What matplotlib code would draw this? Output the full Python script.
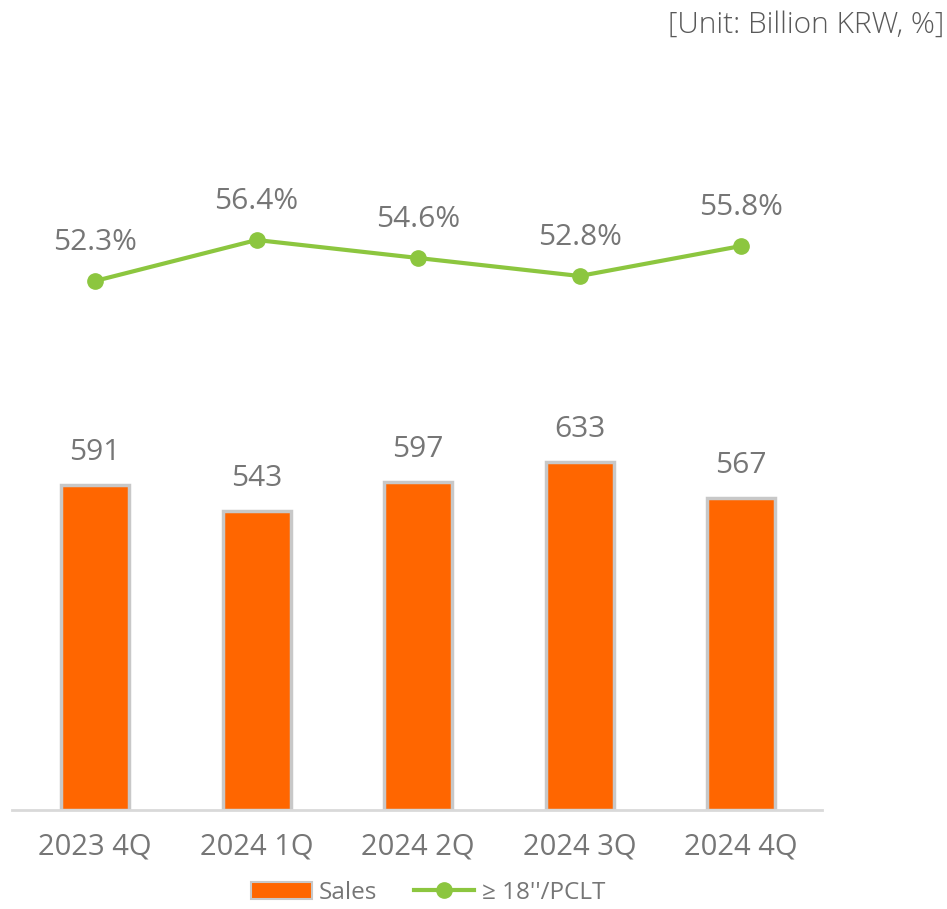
import matplotlib
matplotlib.use("Agg")
import matplotlib.pyplot as plt
from matplotlib.lines import Line2D
from matplotlib.patches import Patch

categories = ["2023 4Q", "2024 1Q", "2024 2Q", "2024 3Q", "2024 4Q"]
sales = [591, 543, 597, 633, 567]
ratio = [52.3, 56.4, 54.6, 52.8, 55.8]
ratio_labels = ["52.3%", "56.4%", "54.6%", "52.8%", "55.8%"]

plt.rcParams['font.family'] = ['Open Sans', 'DejaVu Sans']
gray = "#767676"
orange = "#FF6600"
green = "#8CC63F"

fig = plt.figure(figsize=(9.47, 9.09), dpi=100)
ax = fig.add_axes([12/947, 1-810/909, 810/947, 710/909])
x = list(range(len(categories)))
ax.bar(x, sales, width=0.42, color=orange, edgecolor="#C8C8C8", linewidth=2.5, zorder=2)
ax.set_xlim(-0.514, 4.5)
ax.set_ylim(0, 710/0.55)
for xi, v in zip(x, sales):
    ax.annotate(str(v), (xi, v), xytext=(0, 13), textcoords="offset points",
                ha="center", va="bottom", fontsize=21.5, color=gray)
ax.set_xticks(x)
ax.set_xticklabels(categories, fontsize=21, color=gray)
ax.tick_params(axis="x", length=0, pad=16)
ax.set_yticks([])
for s in ["top", "right", "left"]:
    ax.spines[s].set_visible(False)
ax.spines["bottom"].set_color("#D9D9D9")
ax.spines["bottom"].set_linewidth(2)

ax2 = ax.twinx()
ax2.plot(x, ratio, color=green, lw=3, marker="o", markersize=11, zorder=3)
ax2.set_ylim(-0.6, 70.4)
ax2.set_yticks([])
for s in ["top", "right", "left", "bottom"]:
    ax2.spines[s].set_visible(False)
for xi, v, lab in zip(x, ratio, ratio_labels):
    ax2.annotate(lab, (xi, v), xytext=(0, 17), textcoords="offset points",
                 ha="center", va="bottom", fontsize=21.5, color=gray)

fig.text(0.997, 0.973, "[Unit: Billion KRW, %]", ha="right", va="center",
         fontsize=21.5, color="#595959", fontweight="light")

handles = [Patch(facecolor=orange, edgecolor="#C8C8C8", linewidth=1.5),
           Line2D([0], [0], color=green, lw=3, marker="o", markersize=11)]
fig.legend(handles, ["Sales", "\u2265 18''/PCLT"], loc="center", bbox_to_anchor=(428/947, 1-893/909),
           ncol=2, frameon=False, fontsize=17.5, labelcolor=gray, handlelength=2.5,
           columnspacing=1.5, handletextpad=0.3)

fig.savefig("out.png", dpi=100)
